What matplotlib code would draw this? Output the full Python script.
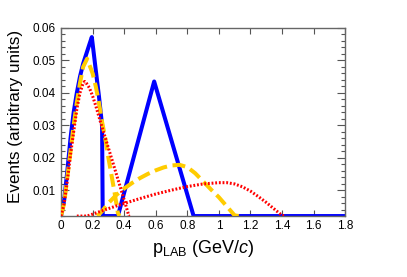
import numpy as np
import matplotlib
matplotlib.use("Agg")
import matplotlib.pyplot as plt
from matplotlib.ticker import MultipleLocator, FixedLocator

# --- data ---
blue_x = [0, 0.02, 0.04, 0.06, 0.08, 0.10, 0.12, 0.14, 0.16, 0.18, 0.195,
          0.22, 0.24, 0.26, 0.264, 0.36, 0.59, 0.84, 1.8]
blue_y = [0, 0.007, 0.016, 0.026, 0.034, 0.040, 0.045, 0.049, 0.052, 0.055, 0.0572,
          0.047, 0.039, 0.030, 0, 0, 0.0435, 0, 0]

yellow1_x = [0, 0.02, 0.04, 0.06, 0.08, 0.10, 0.12, 0.14, 0.165, 0.20, 0.22, 0.24,
             0.26, 0.28, 0.30, 0.32, 0.34, 0.36, 0.37]
yellow1_y = [0, 0.006, 0.014, 0.022, 0.030, 0.037, 0.043, 0.048, 0.0505, 0.046, 0.042, 0.037,
             0.031, 0.026, 0.020, 0.0145, 0.009, 0.003, 0]

yellow2_x = [0.23, 0.26, 0.30, 0.35, 0.40, 0.45, 0.50, 0.55, 0.60, 0.65, 0.70, 0.75,
             0.80, 0.85, 0.90, 0.95, 1.00, 1.05, 1.10, 1.13]
yellow2_y = [0, 0.0035, 0.0060, 0.0085, 0.0105, 0.0122, 0.0137, 0.0150, 0.0161, 0.0170, 0.0176, 0.0178,
             0.0171, 0.0152, 0.0127, 0.0102, 0.0078, 0.0050, 0.0022, 0]

red1_x = [0, 0.02, 0.04, 0.06, 0.08, 0.10, 0.12, 0.14, 0.15, 0.16, 0.18, 0.20, 0.22,
          0.25, 0.30, 0.35, 0.40, 0.43, 0.44]
red1_y = [0, 0.006, 0.013, 0.021, 0.028, 0.035, 0.040, 0.043, 0.0435, 0.043, 0.0415, 0.039, 0.036,
          0.031, 0.023, 0.015, 0.007, 0.002, 0]

red2_x = [0.10, 0.165, 0.2, 0.3, 0.4, 0.5, 0.6, 0.7, 0.8, 0.9, 1.0, 1.05, 1.1,
          1.15, 1.2, 1.25, 1.3, 1.35, 1.4, 1.42]
red2_y = [0, 0.002, 0.0026, 0.0043, 0.0059, 0.0074, 0.0088, 0.0100, 0.0111, 0.0119, 0.0123, 0.0123, 0.0119,
          0.0110, 0.0097, 0.0080, 0.0062, 0.0042, 0.0022, 0]

x_ticks = [0, 0.2, 0.4, 0.6, 0.8, 1.0, 1.2, 1.4, 1.6, 1.8]
x_labels = ["0", "0.2", "0.4", "0.6", "0.8", "1", "1.2", "1.4", "1.6", "1.8"]
y_ticks = [0.01, 0.02, 0.03, 0.04, 0.05, 0.06]
y_labels = ["0.01", "0.02", "0.03", "0.04", "0.05", "0.06"]

y_min, y_max = 0.002, 0.06

plt.rcParams["font.family"] = ["Liberation Sans", "DejaVu Sans"]
plt.rcParams["mathtext.fontset"] = "custom"
plt.rcParams["mathtext.rm"] = "Liberation Sans"
plt.rcParams["mathtext.it"] = "Liberation Sans:italic"

fig = plt.figure(figsize=(4.07, 2.77), dpi=100)
ax = fig.add_axes([0.150, 0.220, 0.698, 0.679])


def draw(x, y, **kw):
    # values under the axis minimum sit on the bottom edge, like ROOT does
    ax.plot(x, np.maximum(np.array(y), y_min), solid_joinstyle="round", **kw)


blue = "#0000ff"
gold = "#ffcc00"
red = "#ff0000"

draw(blue_x, blue_y, color=blue, lw=2.9, zorder=2)
draw(yellow1_x, yellow1_y, color=gold, lw=2.9, ls=(0, (3.2, 1.4)), dash_capstyle="butt", zorder=3)
draw(yellow2_x, yellow2_y, color=gold, lw=2.9, ls=(0, (3.2, 1.4)), dash_capstyle="butt", zorder=3)
draw(red1_x, red1_y, color=red, lw=2.2, ls=(0, (0.6, 0.6)), zorder=4)
draw(red2_x, red2_y, color=red, lw=2.2, ls=(0, (0.6, 0.6)), zorder=4)

ax.set_xlim(0, 1.8)
ax.set_ylim(y_min, y_max)

ax.xaxis.set_major_locator(FixedLocator(x_ticks))
ax.set_xticklabels(x_labels)
ax.yaxis.set_major_locator(FixedLocator(y_ticks))
ax.set_yticklabels(y_labels)
ax.yaxis.set_minor_locator(MultipleLocator(0.002))

ax.tick_params(axis="both", which="both", direction="in", top=True, right=True,
               color="#555555", width=0.8, labelsize=8.5)
ax.tick_params(axis="x", which="major", length=4.5, pad=3)
ax.tick_params(axis="y", which="major", length=6, pad=4)
ax.tick_params(axis="y", which="minor", length=3)
for s in ax.spines.values():
    s.set_color("#666666")
    s.set_linewidth(1.0)

ax.set_xlabel(r"p$_{\mathrm{LAB}}$ (GeV/$c$)", fontsize=13, labelpad=4)
ax.set_ylabel("Events (arbitrary units)", fontsize=12.3)
ax.yaxis.set_label_coords(-0.133, 0.53)

fig.savefig("out.png", dpi=100)
